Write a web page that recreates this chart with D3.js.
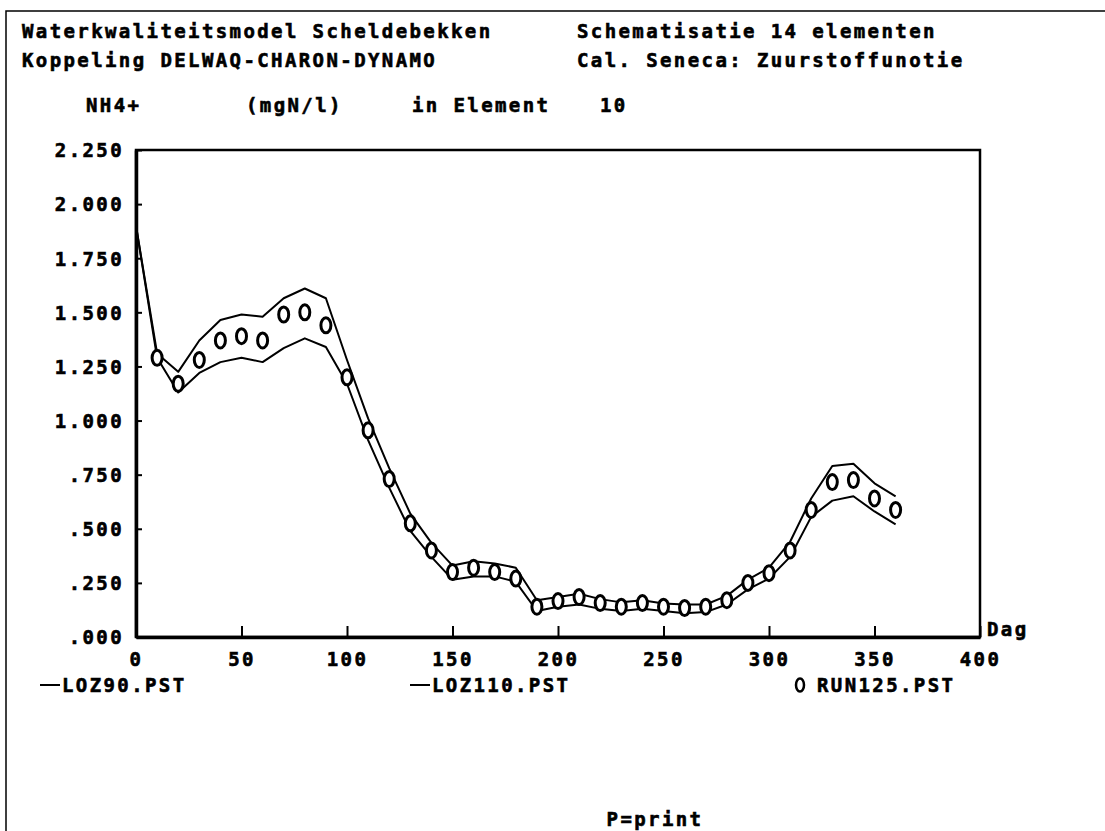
<!DOCTYPE html>
<html>
<head>
<meta charset="utf-8">
<script src="https://cdn.jsdelivr.net/npm/d3@7"></script>
<style>
  html, body { margin: 0; padding: 0; background: #fff; }
  svg text { font-family: "DejaVu Sans Mono", "Liberation Mono", monospace; font-weight: bold; font-size: 19px; letter-spacing: 2.4px; fill: #000; stroke: #000; stroke-width: 0.6px; }
</style>
</head>
<body>
<svg id="chart" width="1105" height="831"></svg>
<script>
// ---- data ----
const lineDays = [0,10,20,30,40,50,60,70,80,90,100,110,120,130,140,150,160,170,180,190,200,210,220,230,240,250,260,270,280,290,300,310,320,330,340,350,360];
const loz90 = [1.90,1.29,1.13,1.22,1.27,1.29,1.27,1.335,1.38,1.34,1.17,0.91,0.69,0.49,0.37,0.265,0.28,0.28,0.255,0.12,0.14,0.15,0.13,0.12,0.13,0.12,0.11,0.115,0.15,0.22,0.27,0.37,0.555,0.63,0.65,0.58,0.52];
const loz110 = [1.90,1.31,1.225,1.37,1.465,1.49,1.48,1.565,1.61,1.565,1.28,1.01,0.78,0.57,0.435,0.33,0.35,0.34,0.32,0.17,0.185,0.20,0.175,0.16,0.17,0.155,0.15,0.15,0.19,0.265,0.32,0.44,0.64,0.79,0.80,0.71,0.65];
const runDays = [10,20,30,40,50,60,70,80,90,100,110,120,130,140,150,160,170,180,190,200,210,220,230,240,250,260,270,280,290,300,310,320,330,340,350,360];
const run125 = [1.29,1.17,1.28,1.37,1.39,1.37,1.49,1.50,1.44,1.20,0.955,0.73,0.525,0.40,0.30,0.32,0.30,0.27,0.14,0.166,0.185,0.157,0.14,0.157,0.14,0.134,0.14,0.17,0.25,0.295,0.40,0.587,0.716,0.725,0.64,0.587];
const xTicks = [0,50,100,150,200,250,300,350,400];
const xTickLabels = ["0","50","100","150","200","250","300","350","400"];
const yTicks = [0,0.25,0.5,0.75,1.0,1.25,1.5,1.75,2.0,2.25];
const yTickLabels = [".000",".250",".500",".750","1.000","1.250","1.500","1.750","2.000","2.250"];
const titleLeft = ["Waterkwaliteitsmodel Scheldebekken","Koppeling DELWAQ-CHARON-DYNAMO"];
const titleRight = ["Schematisatie 14 elementen","Cal. Seneca: Zuurstoffunotie"];
const subtitle = ["NH4+","(mgN/l)","in Element","10"];
const legendNames = ["LOZ90.PST","LOZ110.PST","RUN125.PST"];

// ---- layout ----
const svg = d3.select("#chart");
const L = 136, R = 980, T = 150, B = 637;
const x = d3.scaleLinear().domain([0,400]).range([L,R]);
const y = d3.scaleLinear().domain([0,2.25]).range([B,T]);

// outer screen border (top + left)
svg.append("path").attr("d", `M6,831 L6,11 L1105,11`).attr("fill","none").attr("stroke","#000").attr("stroke-width",1.5);

// titles
svg.selectAll("text.tl").data(titleLeft).join("text").attr("class","tl")
  .attr("x", 22).attr("y", (d,i) => 38 + i*29).text(d => d);
svg.selectAll("text.tr").data(titleRight).join("text").attr("class","tr")
  .attr("x", 577).attr("y", (d,i) => 38 + i*29).text(d => d);
const subX = [86, 246, 412, 600];
svg.selectAll("text.sub").data(subtitle).join("text").attr("class","sub")
  .attr("x", (d,i) => subX[i]).attr("y", 112).text(d => d);

// frame
svg.append("rect").attr("x", L).attr("y", T).attr("width", R-L).attr("height", B-T)
  .attr("fill","none").attr("stroke","#000").attr("stroke-width",2.5);

// axes
const yAxis = d3.axisLeft(y).tickValues(yTicks)
  .tickFormat((d,i) => yTickLabels[i]).tickSizeInner(-6).tickSizeOuter(0).tickPadding(12);
const gy = svg.append("g").attr("transform", `translate(${L},0)`).call(yAxis);
gy.select(".domain").attr("stroke-width", 3.5);
gy.selectAll(".tick line").attr("stroke-width", 2);
gy.selectAll(".tick text").attr("dy","0.36em");

const xAxis = d3.axisBottom(x).tickValues(xTicks)
  .tickFormat((d,i) => xTickLabels[i]).tickSizeInner(-11).tickSizeOuter(0).tickPadding(16);
const gx = svg.append("g").attr("transform", `translate(0,${B})`).call(xAxis);
gx.select(".domain").attr("stroke-width", 3.5);
gx.selectAll(".tick line").attr("stroke-width", 2);
gy.attr("font-family", null).attr("font-size", null);
gx.attr("font-family", null).attr("font-size", null);

svg.append("text").attr("x", 987).attr("y", 636).text("Dag");

// lines
const line = d3.line().x((d,i) => x(lineDays[i])).y(d => y(d));
[loz90, loz110].forEach(s => {
  svg.append("path").datum(s).attr("d", line)
    .attr("fill","none").attr("stroke","#000").attr("stroke-width",2).attr("stroke-linejoin","round");
});

// markers
svg.selectAll("ellipse.run").data(run125).join("ellipse").attr("class","run")
  .attr("cx", (d,i) => x(runDays[i])).attr("cy", d => y(d))
  .attr("rx", 5).attr("ry", 7.5)
  .attr("fill","#fff").attr("stroke","#000").attr("stroke-width",3);

// legend
const legY = 692;
const legX = [40, 410, 795];
[0,1].forEach(i => {
  svg.append("line").attr("x1", legX[i]).attr("x2", legX[i]+20).attr("y1", legY-7).attr("y2", legY-7)
    .attr("stroke","#000").attr("stroke-width",2);
  svg.append("text").attr("x", legX[i]+22).attr("y", legY).text(legendNames[i]);
});
svg.append("ellipse").attr("cx", legX[2]+5).attr("cy", legY-7).attr("rx",4).attr("ry",6.5)
  .attr("fill","none").attr("stroke","#000").attr("stroke-width",2.5);
svg.append("text").attr("x", legX[2]+22).attr("y", legY).text(legendNames[2]);

svg.append("text").attr("x", 655).attr("y", 826).attr("text-anchor","middle").text("P=print");
</script>
</body>
</html>
